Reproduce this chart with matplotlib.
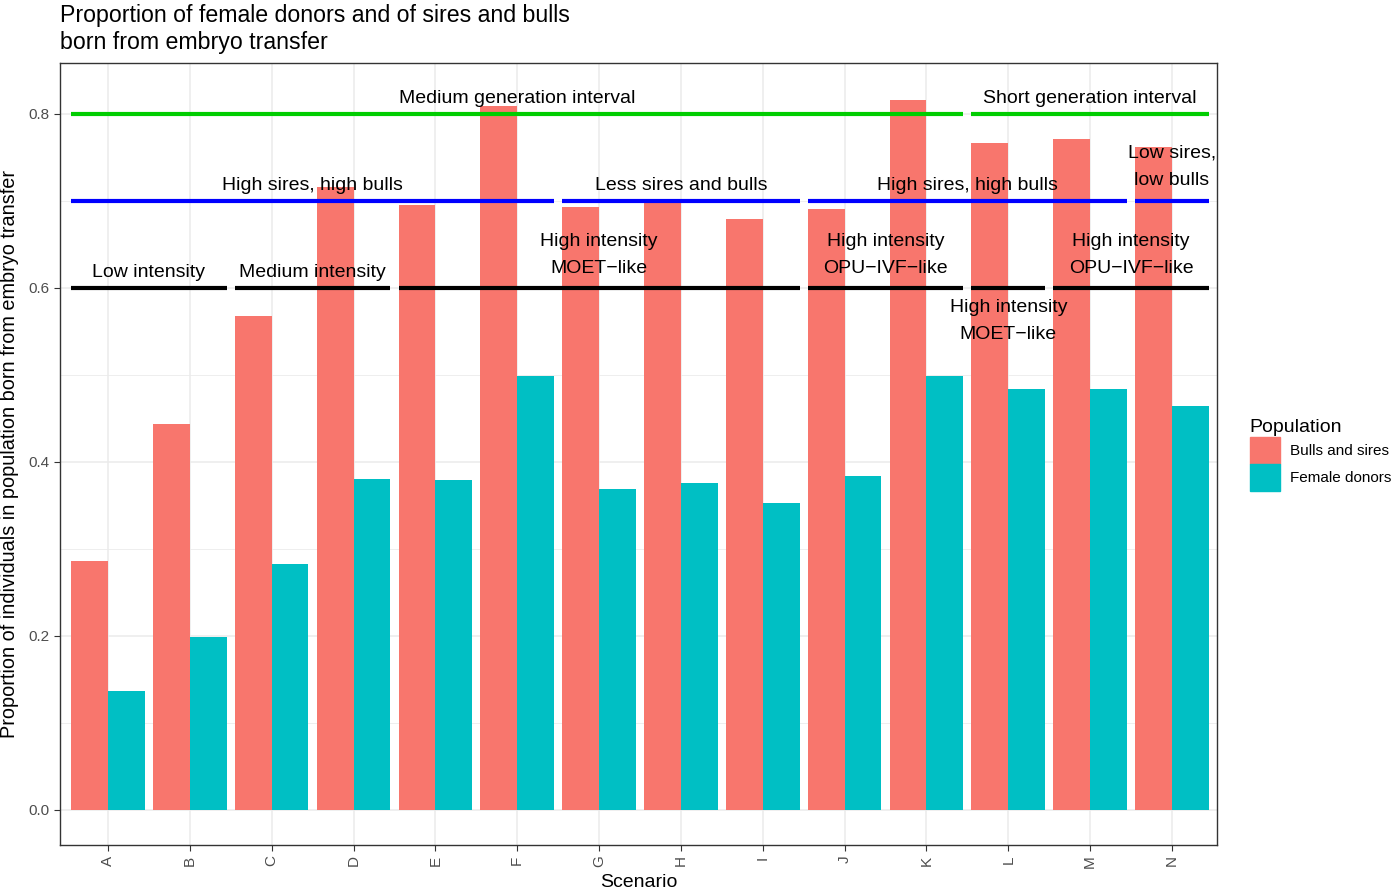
import matplotlib.pyplot as plt
from matplotlib.patches import Patch
from matplotlib.ticker import MultipleLocator

plt.rcParams['font.family'] = ['Liberation Sans', 'DejaVu Sans']

# Proportion born from embryo transfer, per scenario
scenarios = list('ABCDEFGHIJKLMN')
bulls_sires = [0.286, 0.444, 0.568, 0.716, 0.695, 0.809, 0.693,
               0.701, 0.679, 0.691, 0.816, 0.766, 0.771, 0.762]
female_donors = [0.136, 0.199, 0.282, 0.380, 0.379, 0.499, 0.369,
                 0.376, 0.353, 0.384, 0.499, 0.484, 0.484, 0.464]

# scenario groups: (first, last) for each level of annotation
gen_groups = [('A', 'K'), ('L', 'N')]
sire_groups = [('A', 'F'), ('G', 'I'), ('J', 'M'), ('N', 'N')]
intensity_groups = [('A', 'B'), ('C', 'D'), ('E', 'I'), ('J', 'K'), ('L', 'L'), ('M', 'N')]

gen_labels = ['Medium generation interval', 'Short generation interval']
sire_labels = ['High sires, high bulls', 'Less sires and bulls',
               'High sires, high bulls', 'Low sires,\nlow bulls']
intensity_labels = ['Low intensity', 'Medium intensity', 'High intensity\nMOET\u2212like',
                    'High intensity\nOPU\u2212IVF\u2212like', 'High intensity\nMOET\u2212like',
                    'High intensity\nOPU\u2212IVF\u2212like']

red = '#F8766D'
teal = '#00BFC4'

fig = plt.figure(figsize=(13.98, 8.92), dpi=100)
ax = fig.add_axes([60 / 1398, 47 / 892, 1157 / 1398, 782 / 892])

x = list(range(len(scenarios)))
ax.bar([i - 0.225 for i in x], bulls_sires, width=0.45, color=red, zorder=2)
ax.bar([i + 0.225 for i in x], female_donors, width=0.45, color=teal, zorder=2)


def draw_groups(groups, level, color):
    for first, last in groups:
        a = scenarios.index(first) - 0.45
        b = scenarios.index(last) + 0.45
        ax.plot([a, b], [level, level], color=color, lw=3, solid_capstyle='butt', zorder=3)


def centre(g):
    return (scenarios.index(g[0]) + scenarios.index(g[1])) / 2


draw_groups(gen_groups, 0.8, '#00CD00')
draw_groups(sire_groups, 0.7, '#0000FF')
draw_groups(intensity_groups, 0.6, 'black')

tkw = dict(ha='center', va='center', fontsize=14, zorder=4, linespacing=1.8)
for g, lab in zip(gen_groups, gen_labels):
    ax.text(centre(g), 0.818, lab, **tkw)
for g, lab in zip(sire_groups, sire_labels):
    y = 0.739 if '\n' in lab else 0.718
    ax.text(centre(g), y, lab, **tkw)
for i, (g, lab) in enumerate(zip(intensity_groups, intensity_labels)):
    if '\n' not in lab:
        y = 0.618
    elif i == 4:
        y = 0.562
    else:
        y = 0.638
    ax.text(centre(g), y, lab, **tkw)

ax.set_xlim(-0.586, 13.55)
ax.set_ylim(-0.0405, 0.8585)
ax.set_xticks(x)
ax.set_xticklabels(scenarios, rotation=90)
ax.yaxis.set_major_locator(MultipleLocator(0.2))
ax.yaxis.set_minor_locator(MultipleLocator(0.1))
ax.set_yticklabels([f'{v:.1f}' for v in ax.get_yticks()])
ax.grid(which='major', color='#EBEBEB', lw=1.1, zorder=0)
ax.grid(which='minor', axis='y', color='#EBEBEB', lw=0.6, zorder=0)
ax.set_axisbelow(True)
ax.tick_params(axis='both', which='major', colors='#333333', labelcolor='#4D4D4D',
               labelsize=11, length=4)
ax.tick_params(axis='y', which='minor', length=0)
for s in ax.spines.values():
    s.set_color('#333333')
    s.set_linewidth(1.0)

ax.set_xlabel('Scenario', fontsize=14, labelpad=4)
ax.set_ylabel('Proportion of individuals in population born from embryo transfer', fontsize=14.3, labelpad=7)
fig.text(60 / 1398, 1 - 4 / 892, 'Proportion of female donors and of sires and bulls\nborn from embryo transfer',
         fontsize=16.7, va='top', ha='left', linespacing=1.22)

handles = [Patch(color=red, label='Bulls and sires'), Patch(color=teal, label='Female donors')]
fig.legend(handles=handles, title='Population', loc='center left',
           bbox_to_anchor=(1236 / 1398, 1 - 455 / 892), frameon=False,
           fontsize=11, title_fontsize=14, handlelength=1.96, handleheight=2.31,
           handletextpad=0.7, labelspacing=0.05, alignment='left')

fig.savefig('out.png', dpi=100)
